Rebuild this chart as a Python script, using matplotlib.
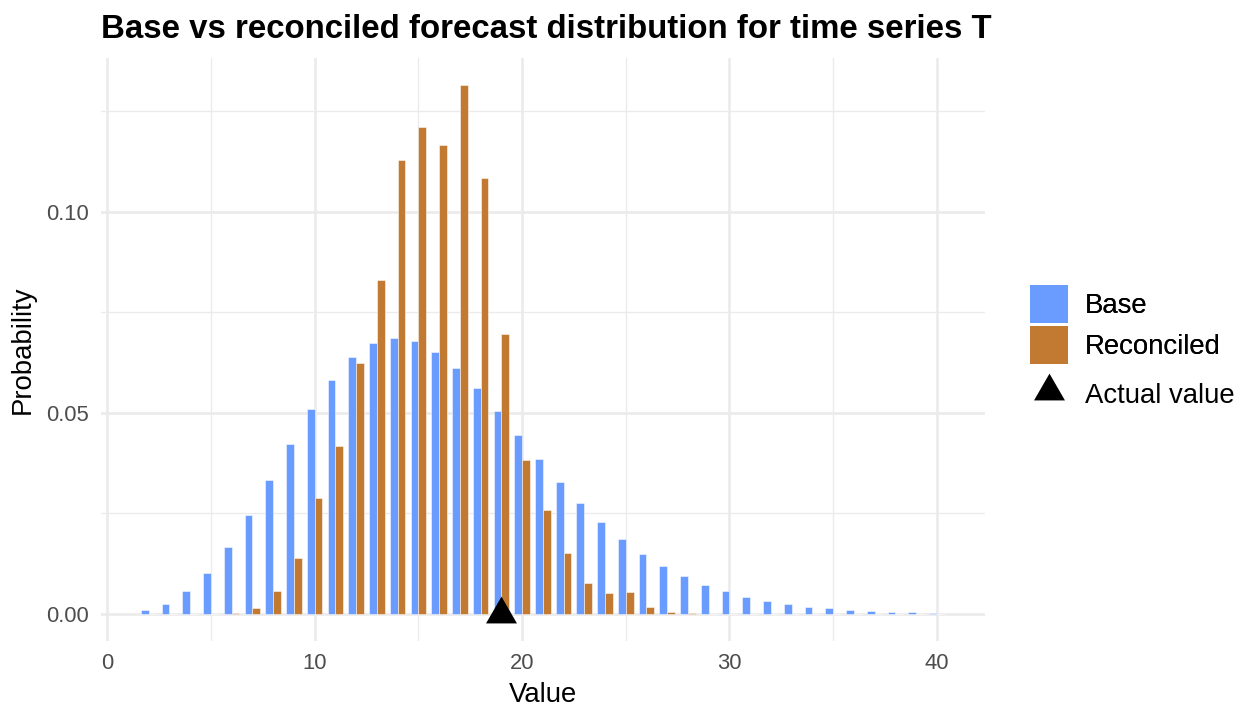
import numpy as np
import matplotlib.pyplot as plt
from matplotlib.patches import Patch
from matplotlib.lines import Line2D

plt.rcParams['font.family'] = ['Liberation Sans', 'DejaVu Sans']

# forecast support and probabilities
values = np.arange(2, 41)
base_prob = [0.0009, 0.0026, 0.0056, 0.0101, 0.0166, 0.0245, 0.0334, 0.0424, 0.0511,
             0.0582, 0.0639, 0.0674, 0.0686, 0.0678, 0.0652, 0.0612, 0.0562, 0.0505,
             0.0446, 0.0386, 0.0329, 0.0277, 0.0230, 0.0187, 0.0150, 0.0120, 0.0095,
             0.0073, 0.0058, 0.0043, 0.0033, 0.0025, 0.0018, 0.0014, 0.0011, 0.0007,
             0.0006, 0.0004, 0.0002]
reconciled_prob = [0.0, 0.0, 0.0, 0.0, 0.0002, 0.0016, 0.0056, 0.0140, 0.0289,
                   0.0418, 0.0624, 0.0830, 0.1130, 0.1212, 0.1167, 0.1316, 0.1085, 0.0696,
                   0.0384, 0.0259, 0.0152, 0.0078, 0.0053, 0.0055, 0.0018, 0.0006, 0.0002,
                   0.0, 0.0, 0.0, 0.0, 0.0, 0.0, 0.0, 0.0, 0.0,
                   0.0, 0.0, 0.0]
actual_value = 19

base_col = '#6A9BFF'
rec_col = '#C27A32'
grid_col = '#EBEBEB'
tick_col = '#4D4D4D'

# ggplot-like filled triangle (shape 17), centred on its centroid
tri = [(-1, -0.577), (1, -0.577), (0, 1.155)]

fig = plt.figure(figsize=(7, 4), dpi=180)
W, H = 1260, 720
ax = fig.add_axes([101 / W, 1 - 640.7 / H, (985 - 101) / W, (640.7 - 58.3) / H])

w = 0.375
ax.bar(values - w / 2, base_prob, width=w, color=base_col, edgecolor='white', linewidth=0.2, zorder=2)
ax.bar(values + w / 2, reconciled_prob, width=w, color=rec_col, edgecolor='white', linewidth=0.2, zorder=2)
ax.plot([actual_value], [0], linestyle='none', marker=tri, markersize=14.3,
        color='black', markeredgewidth=0, zorder=3, clip_on=False)

ax.set_xlim(-0.30, 42.32)
ax.set_ylim(-0.00664, 0.1382)
ax.set_xticks([0, 10, 20, 30, 40])
ax.set_xticks([5, 15, 25, 35], minor=True)
ax.set_yticks([0, 0.05, 0.10])
ax.set_yticklabels(['0.00', '0.05', '0.10'])
ax.set_yticks([0.025, 0.075, 0.125], minor=True)
ax.grid(which='major', color=grid_col, linewidth=1.07, zorder=0)
ax.grid(which='minor', color=grid_col, linewidth=0.53, zorder=0)
ax.set_axisbelow(True)
for s in ax.spines.values():
    s.set_visible(False)
ax.tick_params(which='both', length=0, pad=5, labelsize=8.8, labelcolor=tick_col)

ax.set_xlabel('Value', fontsize=11, labelpad=3)
ax.set_ylabel('Probability', fontsize=11, labelpad=4)
ax.set_title('Base vs reconciled forecast distribution for time series T',
             loc='left', fontsize=13.2, fontweight='bold', pad=8)

leg1 = fig.legend(handles=[Patch(facecolor=base_col, label='Base'),
                           Patch(facecolor=rec_col, label='Reconciled')],
                  loc='upper left', bbox_to_anchor=(1030 / W, 1 - 285 / H),
                  frameon=False, fontsize=11, borderpad=0, borderaxespad=0,
                  handlelength=1.38, handleheight=1.75, handletextpad=0.62,
                  labelspacing=0.11)
leg2 = fig.legend(handles=[Line2D([], [], linestyle='none', marker=tri, markersize=14.3,
                                  color='black', markeredgewidth=0, label='Actual value')],
                  loc='center left', bbox_to_anchor=(1030 / W, 1 - 394 / H),
                  frameon=False, fontsize=11, borderpad=0, borderaxespad=0,
                  handlelength=1.38, handleheight=1.38, handletextpad=0.62, numpoints=1)
fig.add_artist(leg1)

fig.savefig('out.png', dpi=180)
